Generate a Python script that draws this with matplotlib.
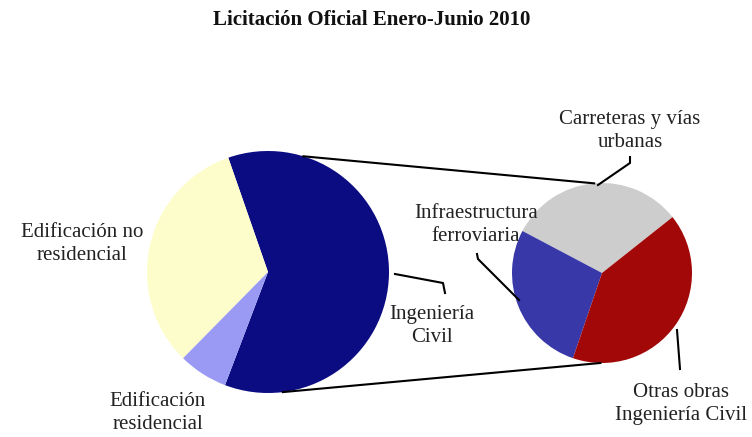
import numpy as np
import matplotlib
matplotlib.use('Agg')
import matplotlib.pyplot as plt

plt.rcParams['font.family'] = ['Liberation Serif', 'DejaVu Serif']

# Pie principal: licitación oficial por tipo de obra (%)
tipos = ['Ingeniería\nCivil', 'Edificación no\nresidencial', 'Edificación\nresidencial']
valores = [61.1, 32.3, 6.6]
colores = ['#0b0b82', '#fdfdcb', '#9a9af5']

# Desglose de Ingeniería Civil (%)
sub_tipos = ['Carreteras y vías\nurbanas', 'Infraestructura\nferroviaria', 'Otras obras\nIngeniería Civil']
sub_valores = [31.6, 27.5, 40.9]
sub_colores = ['#cdcdcd', '#3838a8', '#a20808']

W, H = 752, 437
fig = plt.figure(figsize=(W / 100, H / 100), dpi=100)
ax = fig.add_axes([0, 0, 1, 1])

c1, r1 = (268, 165), 121
c2, r2 = (602, 164), 90

ax.pie(valores, colors=colores, startangle=-110.8, center=c1, radius=r1,
       counterclock=True, frame=True)
ax.pie(sub_valores, colors=sub_colores, startangle=38.4, center=c2, radius=r2,
       counterclock=True, frame=True)
ax.set_xlim(0, W)
ax.set_ylim(0, H)
ax.set_aspect('equal')
ax.set_axis_off()


def punto(c, r, ang):
    a = np.deg2rad(ang)
    return c[0] + r * np.cos(a), c[1] + r * np.sin(a)


# lineas de union entre los dos pies
for a1, a2 in [(73, 95), (-83, -91)]:
    p1 = punto(c1, r1, a1)
    p2 = punto(c2, r2, a2)
    ax.plot([p1[0], p2[0]], [p1[1], p2[1]], color='black', lw=1.5, zorder=3)

# lineas guia de las etiquetas
guias = [
    [(395, H - 274), (443, H - 283), (445, H - 293)],
    [(477, H - 254), (478, H - 259), (519, H - 300)],
    [(630, H - 157), (630, H - 163), (598, H - 185)],
    [(677, H - 330), (680, H - 369)],
]
for g in guias:
    xs, ys = zip(*g)
    ax.plot(xs, ys, color='black', lw=1.5, zorder=3)

kw = dict(fontsize=15, color='#222222', ha='center', va='center', linespacing=1.35)
ax.text(432, H - 326, tipos[0], **kw)
ax.text(82, H - 244, tipos[1], **kw)
ax.text(158, H - 413, tipos[2], **kw)
ax.text(630, H - 131, sub_tipos[0], **kw)
ax.text(476, H - 225, sub_tipos[1], **kw)
ax.text(681, H - 404, sub_tipos[2], **kw)

ax.text(372, H - 20, 'Licitación Oficial Enero-Junio 2010', fontsize=15,
        fontweight='bold', ha='center', va='center', color='#111111')

fig.savefig('out.png', dpi=100)
